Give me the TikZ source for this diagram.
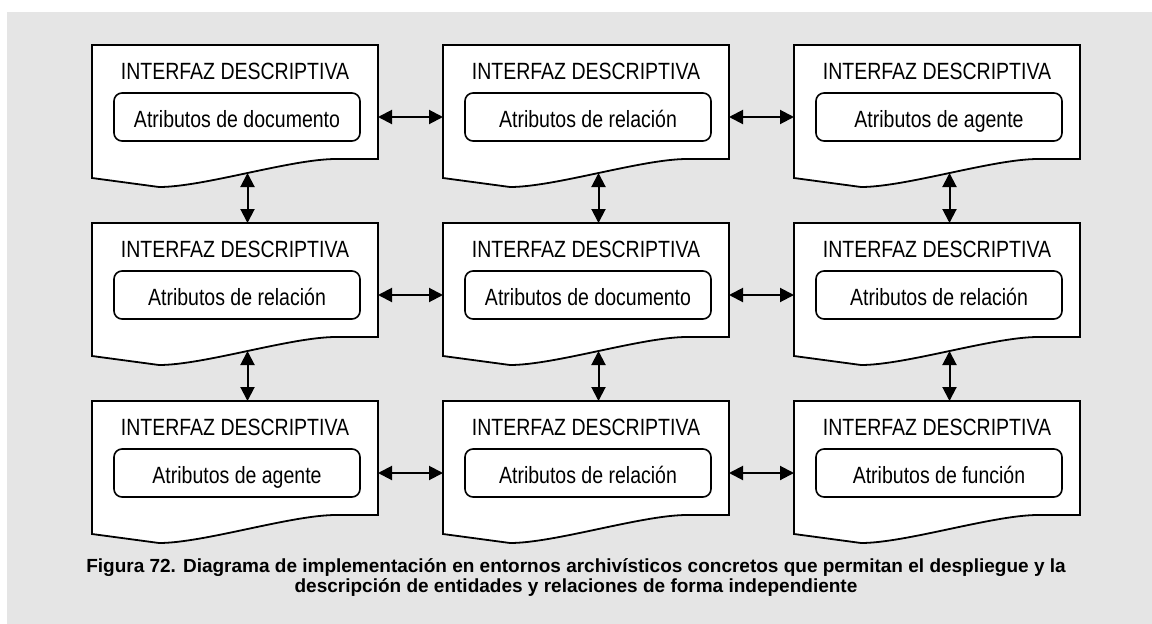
\documentclass[tikz,border=0pt]{standalone}
\usepackage{fontspec}
\setmainfont{Liberation Sans}
\newfontfamily\narrowfont[FakeStretch=0.83]{Liberation Sans}
\usepackage{tikz}
\usetikzlibrary{positioning, backgrounds, arrows.meta}

\begin{document}
\begin{tikzpicture}[x=1pt, y=1pt, >={Triangle[length=14pt,width=14pt]},
  doc node/.style={rectangle, minimum width=286pt, minimum height=144pt, inner sep=0pt, outer sep=0pt},
  title node/.style={inner sep=0pt, font=\narrowfont\fontsize{23.5}{28}\selectfont},
  attr node/.style={rectangle, rounded corners=8pt, draw, line width=1.6pt, fill=white,
    minimum width=246pt, minimum height=48pt, text height=20pt, text depth=0pt, inner sep=0pt,
    font=\narrowfont\fontsize{23.5}{28}\selectfont},
  link/.style={<->, line width=2pt}]

\useasboundingbox (0,0) rectangle (1152,-624);

\node[doc node, anchor=north west] (D11) at (92,-45) {};
\node[doc node] (D12) [right=65pt of D11] {};
\node[doc node] (D13) [right=65pt of D12] {};
\node[doc node] (D21) [below=34pt of D11] {};
\node[doc node] (D22) [right=65pt of D21] {};
\node[doc node] (D23) [right=65pt of D22] {};
\node[doc node] (D31) [below=34pt of D21] {};
\node[doc node] (D32) [right=65pt of D31] {};
\node[doc node] (D33) [right=65pt of D32] {};

\foreach \n in {11,12,13,21,22,23,31,32,33}
  \node[title node] (T\n) at ([yshift=-26pt]D\n.north) {INTERFAZ DESCRIPTIVA};

\foreach \n/\t in {11/documento, 12/relación, 13/agente, 21/relación, 22/documento,
                   23/relación, 31/agente, 32/relación, 33/función}
  \node[attr node] (A\n) at ([xshift=2pt]D\n) {Atributos de \t};

\begin{scope}[on background layer]
\fill[black!10] (7,-12) rectangle (1152,-624);
% document outlines with the wavy bottom
\foreach \n in {11,12,13,21,22,23,31,32,33}
  \draw[fill=white, line width=1.8pt] (D\n.north west) -- (D\n.north east)
    -- ([yshift=30pt]D\n.south east) -- ([xshift=244pt,yshift=30pt]D\n.south west)
    .. controls +(-45,0) and +(45,0) .. coordinate[pos=0.5] (W\n) ([xshift=67pt,yshift=2pt]D\n.south west)
    -- ([yshift=11pt]D\n.south west) -- cycle;
\end{scope}

\path[link]
(D11) edge (D12)
(D12) edge (D13)
(D21) edge (D22)
(D22) edge (D23)
(D31) edge (D32)
(D32) edge (D33)
(W11) edge (W11 |- D21.north)
(W12) edge (W12 |- D22.north)
(W13) edge (W13 |- D23.north)
(W21) edge (W21 |- D31.north)
(W22) edge (W22 |- D32.north)
(W23) edge (W23 |- D33.north)
;

\node[align=center, font=\bfseries\fontsize{19}{20}\selectfont] (cap) at (576,-577)
  {Figura 72. Diagrama de implementación en entornos archivísticos concretos que permitan el despliegue y la\\
   descripción de entidades y relaciones de forma independiente};

\end{tikzpicture}
\end{document}
